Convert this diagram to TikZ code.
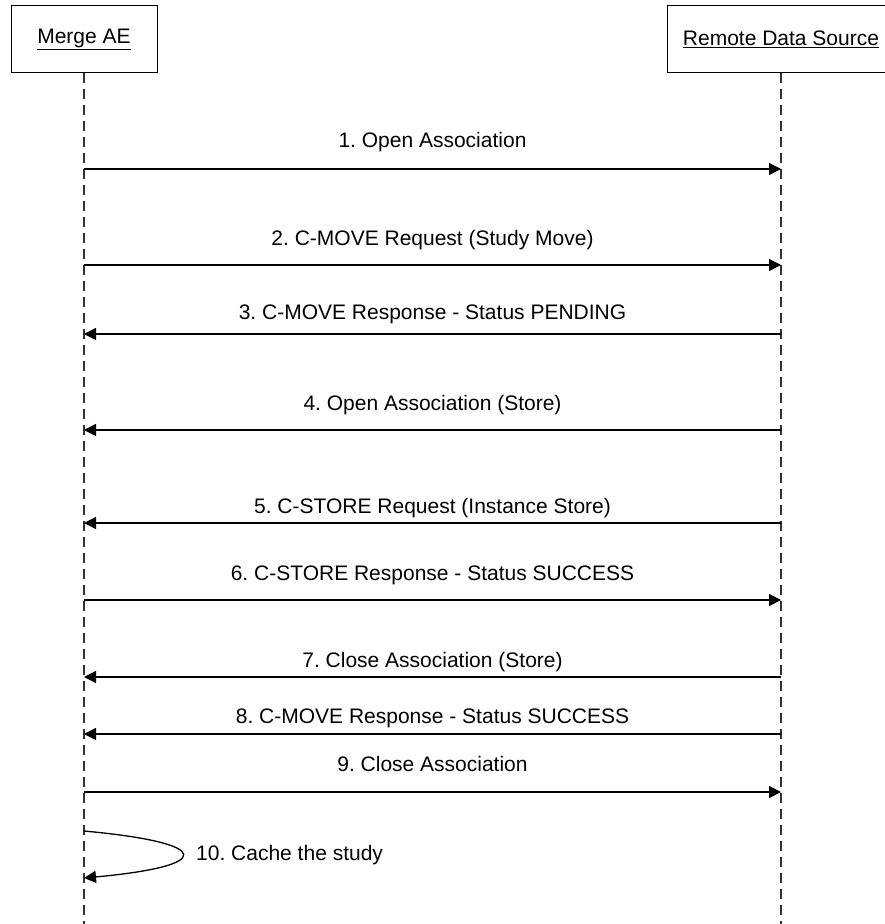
\documentclass[tikz,border=0pt]{standalone}
\usepackage{fontspec}
\setmainfont{Liberation Sans}
\usetikzlibrary{arrows.meta}
\frenchspacing

\tikzset{
	actor/.style = {draw, line width = 1pt, minimum height = 67pt, inner sep = 0pt,
		font = \fontsize{21}{25}\selectfont},
	life/.style = {draw = black!80, line width = 1.2pt, dash pattern = on 10pt off 6pt},
	msg/.style = {line width = 1.3pt, -{Triangle[length = 12pt, width = 12pt]}},
	lbl/.style = {anchor = base, inner sep = 0pt, font = \fontsize{21}{25}\selectfont},
}

\begin{document}
\begin{tikzpicture}[x = 1pt, y = -1pt]
		\useasboundingbox (0, 0) rectangle (885, 924) ;
		\clip (0, 0) rectangle (885, 924) ;
		\node [actor, minimum width = 146pt] (merge) at (84, 39) {\underline{Merge AE}} ;
		\node [actor, minimum width = 228pt] (remote) at (781, 39) {\underline{Remote Data Source}} ;
		\coordinate (mergeend) at (84, 924) ;
		\coordinate (remoteend) at (781, 924) ;
		\draw [life] (merge) -- (mergeend) ;
		\draw [life] (remote) -- (remoteend) ;
		% number / arrow height / label baseline / from / to / text
		\foreach \n/\y/\b/\from/\to/\txt in {
				1/169/147/m/r/1. Open Association,
				2/265/245/m/r/2. C-MOVE Request (Study Move),
				3/334/319/r/m/3. C-MOVE Response - Status PENDING,
				4/430/410/r/m/4. Open Association (Store),
				5/523/513/r/m/5. C-STORE Request (Instance Store),
				6/600/580/m/r/6. C-STORE Response - Status SUCCESS,
				7/677/667/r/m/7. Close Association (Store),
				8/734/723/r/m/8. C-MOVE Response - Status SUCCESS,
				9/792/771/m/r/9. Close Association} {
			\coordinate (m\n) at (merge.south |- 0, \y) ;
			\coordinate (r\n) at (remote.south |- 0, \y) ;
			\draw [msg] (\from\n) -- (\to\n) ;
			\node [lbl] (t\n) at (432.5, \b) {\txt} ;
		}
		\coordinate (m10) at (merge.south |- 0, 831) ;
		\coordinate (n10) at (merge.south |- 0, 878) ;
		\draw [msg] (m10) .. controls (215, 843) and (215, 866) .. (n10) ;
		\node [lbl, anchor = base west] (t10) at (196, 860) {10. Cache the study} ;
	\end{tikzpicture}
\end{document}
